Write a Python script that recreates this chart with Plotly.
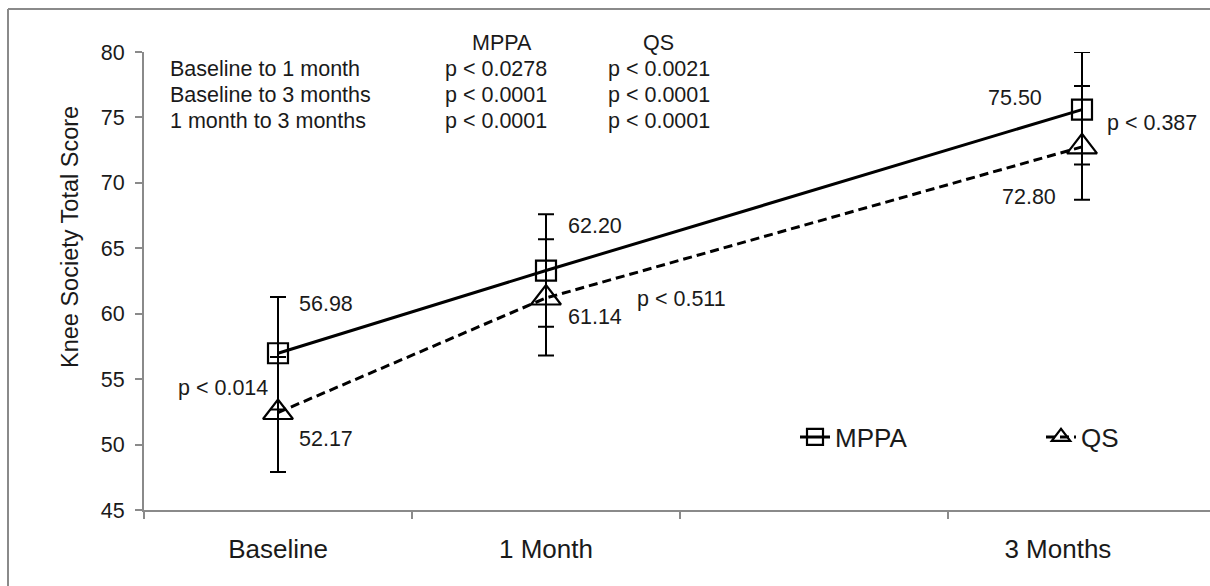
import plotly.graph_objects as go

# ---------------- data ----------------
months = [0, 1, 3]
tick_labels = ["Baseline", "1 Month", "3 Months"]
tick_label_pos = [0, 1, 2.91]

mppa = [56.98, 63.3, 75.6]
mppa_up = [4.3, 4.3, 4.4]
mppa_down = [4.3, 4.3, 4.2]

qs = [52.45, 61.2, 72.75]
qs_up = [4.25, 4.5, 4.65]
qs_down = [4.55, 4.4, 4.05]

mppa_labels = ["56.98", "62.20", "75.50"]
qs_labels = ["52.17", "61.14", "72.80"]
between_p = ["p < 0.014", "p < 0.511", "p < 0.387"]

table_rows = ["Baseline to 1 month", "Baseline to 3 months", "1 month to 3 months"]
table_mppa = ["p < 0.0278", "p < 0.0001", "p < 0.0001"]
table_qs = ["p < 0.0021", "p < 0.0001", "p < 0.0001"]

# ---------------- layout helpers ----------------
W, H = 1210, 586
L, T, PW, PH = 144, 52, 1066, 458
FONT = "Arial, Liberation Sans, sans-serif"
TXT = "#1a1a1a"
AX = "#8a8a8a"


def fx(p):
    return (p - L) / PW


def fy(p):
    return (T + PH - p) / PH


fig = go.Figure()

fig.add_trace(go.Scatter(
    x=months, y=mppa, name="MPPA", mode="lines+markers", legend="legend",
    line=dict(color="black", width=3),
    marker=dict(symbol="square-open", size=20, color="black", line=dict(width=2.2, color="black")),
    error_y=dict(type="data", array=mppa_up, arrayminus=mppa_down, symmetric=False,
                 color="black", thickness=2, width=8),
))
fig.add_trace(go.Scatter(
    x=months, y=qs, name="QS", mode="lines+markers", legend="legend2",
    line=dict(color="black", width=3, dash="9px,5px"),
    marker=dict(symbol="triangle-up-open", size=26, color="black", line=dict(width=2.2, color="black")),
    error_y=dict(type="data", array=qs_up, arrayminus=qs_down, symmetric=False,
                 color="black", thickness=2, width=8),
))

ann = []


def add(text, x, y, xanchor="left", size=21.5):
    ann.append(dict(text=text, x=fx(x), y=fy(y), xref="paper", yref="paper",
                    xanchor=xanchor, yanchor="middle", showarrow=False,
                    font=dict(family=FONT, size=size, color=TXT)))


rows_y = [69, 95, 121]
for i in range(3):
    add(table_rows[i], 168, rows_y[i])
    add(table_mppa[i], 443, rows_y[i])
    add(table_qs[i], 606, rows_y[i])
add("MPPA", 502, 43, "center")
add("QS", 658, 43, "center")

# value labels
add(mppa_labels[0], 297, 304)
add(qs_labels[0], 297, 439)
add(between_p[0], 176, 388)
add(mppa_labels[1], 566, 226)
add(qs_labels[1], 566, 317)
add(between_p[1], 635, 299)
add(mppa_labels[2], 1015, 98, "center")
add(qs_labels[2], 1029, 197, "center")
add(between_p[2], 1105, 123)

# y-axis title
ann.append(dict(text="Knee Society Total Score", x=fx(70), y=fy(237), xref="paper", yref="paper",
                textangle=-90, showarrow=False, xanchor="center", yanchor="middle",
                font=dict(family=FONT, size=23.5, color=TXT)))

shapes = [
    dict(type="line", xref="paper", yref="paper", x0=fx(8), x1=fx(8), y0=fy(9), y1=fy(W),
         line=dict(color=AX, width=2)),
    dict(type="line", xref="paper", yref="paper", x0=fx(8), x1=fx(W + 10), y0=fy(9), y1=fy(9),
         line=dict(color=AX, width=2)),
]

leg_common = dict(orientation="h", xanchor="left", yanchor="middle",
                  font=dict(family=FONT, size=26, color=TXT), bgcolor="rgba(0,0,0,0)")

fig.update_layout(
    width=W, height=H, autosize=False,
    margin=dict(l=L, r=W - L - PW, t=T, b=H - T - PH, pad=0),
    paper_bgcolor="white", plot_bgcolor="white",
    font=dict(family=FONT, color=TXT),
    annotations=ann, shapes=shapes,
    showlegend=True,
    legend=dict(x=fx(795), y=fy(437), **leg_common),
    legend2=dict(x=fx(1041), y=fy(437), **leg_common),
    xaxis=dict(range=[-0.5, -0.5 + PW / 268.0], showgrid=False, zeroline=False,
               showline=True, linecolor=AX, linewidth=2,
               tickmode="array", tickvals=tick_label_pos, ticktext=tick_labels,
               ticks="", ticklabelstandoff=15,
               tickfont=dict(family=FONT, size=26, color=TXT),
               minor=dict(tickmode="array", tickvals=[-0.5, 0.5, 1.5, 2.5], ticks="outside",
                          ticklen=7, tickcolor=AX, tickwidth=2)),
    yaxis=dict(range=[45, 80], dtick=5, tick0=45, showgrid=False, zeroline=False,
               showline=True, linecolor=AX, linewidth=2,
               ticks="outside", ticklen=7, tickcolor=AX, tickwidth=2,
               ticklabelstandoff=6,
               tickfont=dict(family=FONT, size=21.5, color=TXT)),
)

fig.write_html("out.html", config={"displayModeBar": False},
               post_script="document.body.style.margin='0';")
